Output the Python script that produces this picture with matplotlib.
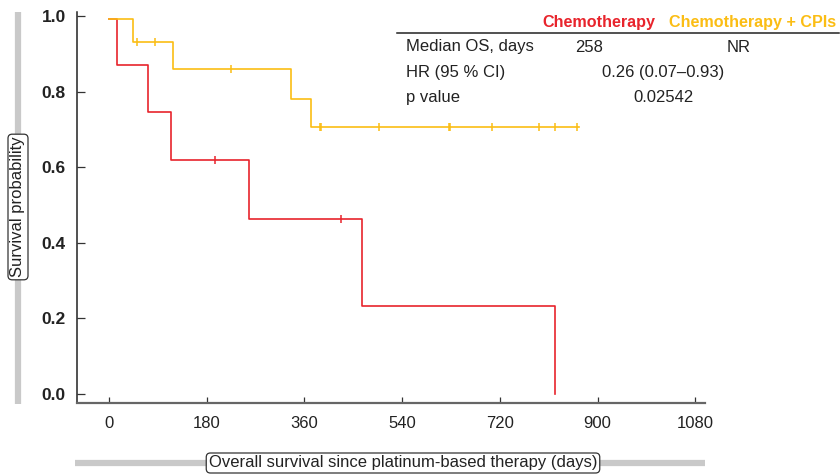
import matplotlib
matplotlib.use("Agg")
import matplotlib.pyplot as plt
from matplotlib.lines import Line2D

plt.rcParams['font.family'] = ['Liberation Sans', 'DejaVu Sans']

# ---- data ----
chemo_times = [0, 14, 71, 114, 258, 466, 821]
chemo_surv = [0.992, 0.87, 0.747, 0.62, 0.462, 0.233, 0.0]
chemo_censor_t = [195, 428]
chemo_censor_s = [0.62, 0.462]

cpi_times = [0, 44, 117, 336, 373]
cpi_surv = [0.992, 0.932, 0.861, 0.78, 0.706]
cpi_end = 865
cpi_censor_t = [51, 84, 225, 388, 391, 498, 627, 629, 705, 793, 822, 862]
cpi_censor_s = [0.932, 0.932, 0.861, 0.706, 0.706, 0.706, 0.706, 0.706,
                0.706, 0.706, 0.706, 0.706]

x_ticks = [0, 180, 360, 540, 720, 900, 1080]
y_ticks = [0.0, 0.2, 0.4, 0.6, 0.8, 1.0]

group_names = ["Chemotherapy", "Chemotherapy + CPIs"]
row_labels = ["Median OS, days", "HR (95 % CI)", "p value"]
median_vals = ["258", "NR"]
hr_text = "0.26 (0.07\u20130.93)"
p_text = "0.02542"

RED = "#e8242c"
YEL = "#fbbd14"
FS = 12

W, H = 840, 476
fig = plt.figure(figsize=(W / 100, H / 100), dpi=100)
ax = fig.add_axes([77 / W, 1 - 403 / H, (705 - 77) / W, (403 - 12) / H])

# curves
ax.step(chemo_times, chemo_surv, where='post', color=RED, lw=1.2)
ax.plot(chemo_censor_t, chemo_censor_s, ls='none', marker='|', ms=6,
        mew=1.1, color=RED)
ax.step(cpi_times + [cpi_end], cpi_surv + [cpi_surv[-1]], where='post',
        color=YEL, lw=1.2)
ax.plot(cpi_censor_t, cpi_censor_s, ls='none', marker='|', ms=6,
        mew=1.1, color=YEL)

ax.set_xlim(-59, 1098)
ax.set_ylim(-0.024, 1.011)
ax.set_xticks(x_ticks)
ax.set_xticklabels([str(v) for v in x_ticks])
ax.set_yticks(y_ticks)
ax.set_yticklabels([f"{v:.1f}" for v in y_ticks])
for s in ['top', 'right']:
    ax.spines[s].set_visible(False)
ax.spines['left'].set_color('#222222')
ax.spines['bottom'].set_color('#666666')
ax.spines['left'].set_linewidth(1.1)
ax.spines['bottom'].set_linewidth(1.6)
ax.tick_params(axis='y', direction='in', length=6, width=0.9,
               color='#333333', pad=8, labelsize=12.5, labelcolor='#222222')
ax.tick_params(axis='x', direction='in', length=4, width=0.9,
               color='#333333', pad=9, labelsize=FS, labelcolor='#222222')
for t in ax.get_yticklabels():
    t.set_fontweight('bold')

# gray guide lines behind axis labels
fig.add_artist(Line2D([18 / W, 18 / W], [1 - 12 / H, 1 - 404 / H],
                      color='#c9c9c9', lw=4.5, transform=fig.transFigure,
                      solid_capstyle='butt'))
fig.add_artist(Line2D([75 / W, 705 / W], [1 - 463 / H, 1 - 463 / H],
                      color='#c9c9c9', lw=4.5, transform=fig.transFigure,
                      solid_capstyle='butt'))

box = dict(boxstyle='round,pad=0.15,rounding_size=0.25', fc='white',
           ec='#333333', lw=0.9)
fig.text(18 / W, 1 - 207 / H, "Survival probability", rotation=90,
         ha='center', va='center', fontsize=FS, color='#222222', bbox=box)
fig.text(403 / W, 1 - 463 / H,
         "Overall survival since platinum-based therapy (days)",
         ha='center', va='center', fontsize=FS, color='#222222', bbox=box)

# table
fig.add_artist(Line2D([397 / W, 839 / W], [1 - 33 / H, 1 - 33 / H],
                      color='#222222', lw=1.1, transform=fig.transFigure))
fig.text(599 / W, 1 - 23 / H, group_names[0], ha='center', va='center',
         fontsize=11.6, color=RED, fontweight='bold')
fig.text(753 / W, 1 - 23 / H, group_names[1], ha='center', va='center',
         fontsize=11.6, color=YEL, fontweight='bold')
row_y = [47, 72, 98]
for lab, yy in zip(row_labels, row_y):
    fig.text(406 / W, 1 - yy / H, lab, ha='left', va='center',
             fontsize=FS, color='#222222')
fig.text(589 / W, 1 - row_y[0] / H, median_vals[0], ha='center',
         va='center', fontsize=FS, color='#222222')
fig.text(739 / W, 1 - row_y[0] / H, median_vals[1], ha='center',
         va='center', fontsize=FS, color='#222222')
fig.text(663 / W, 1 - row_y[1] / H, hr_text, ha='center', va='center',
         fontsize=FS, color='#222222')
fig.text(663 / W, 1 - row_y[2] / H, p_text, ha='center', va='center',
         fontsize=FS, color='#222222')

fig.savefig("out.png", dpi=100)
